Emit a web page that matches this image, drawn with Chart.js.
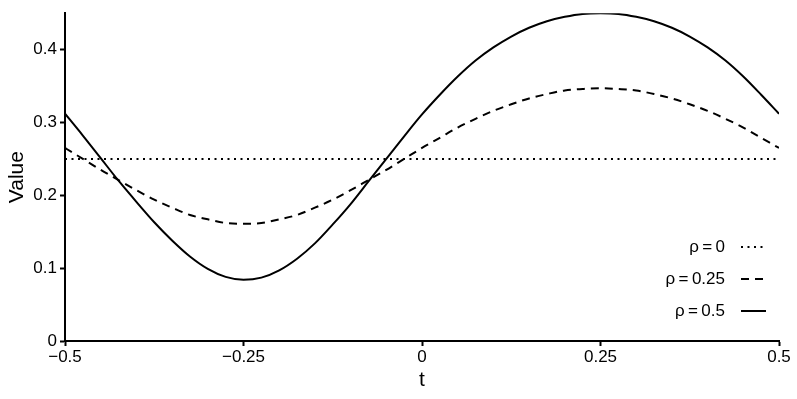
<!DOCTYPE html>
<html>
<head>
<meta charset="utf-8">
<script src="https://cdn.jsdelivr.net/npm/chart.js@4.4.1/dist/chart.umd.min.js"></script>
<style>
    html, body { margin: 0; padding: 0; background: #fff; }
    #wrap { width: 797px; height: 399px; }
</style>
</head>
<body>
<div id="wrap"><canvas id="chart"></canvas></div>
<script>
const tValues = [
    -0.5, -0.475, -0.45, -0.425, -0.4, -0.375, -0.35, -0.325, -0.3, -0.275,
    -0.25, -0.225, -0.2, -0.175, -0.15, -0.125, -0.1, -0.075, -0.05, -0.025,
    0, 0.025, 0.05, 0.075, 0.1, 0.125, 0.15, 0.175, 0.2, 0.225,
    0.25, 0.275, 0.3, 0.325, 0.35, 0.375, 0.4, 0.425, 0.45, 0.475, 0.5
];

const rho0 = [
    0.25, 0.25, 0.25, 0.25, 0.25, 0.25, 0.25, 0.25, 0.25, 0.25,
    0.25, 0.25, 0.25, 0.25, 0.25, 0.25, 0.25, 0.25, 0.25, 0.25,
    0.25, 0.25, 0.25, 0.25, 0.25, 0.25, 0.25, 0.25, 0.25, 0.25,
    0.25, 0.25, 0.25, 0.25, 0.25, 0.25, 0.25, 0.25, 0.25, 0.25, 0.25
];

const rho025 = [
    0.265, 0.250, 0.235, 0.221, 0.207, 0.194, 0.183, 0.173, 0.167, 0.162,
    0.161, 0.162, 0.167, 0.173, 0.183, 0.194, 0.207, 0.221, 0.235, 0.250,
    0.265, 0.279, 0.293, 0.305, 0.316, 0.325, 0.333, 0.339, 0.344, 0.346,
    0.347, 0.346, 0.344, 0.339, 0.333, 0.325, 0.316, 0.305, 0.293, 0.279, 0.265
];

const rho05 = [
    0.312, 0.282, 0.251, 0.220, 0.191, 0.163, 0.138, 0.116, 0.099, 0.088,
    0.084, 0.087, 0.097, 0.113, 0.134, 0.160, 0.188, 0.219, 0.250, 0.281,
    0.311, 0.338, 0.363, 0.385, 0.403, 0.418, 0.430, 0.439, 0.445, 0.449,
    0.450, 0.449, 0.445, 0.439, 0.430, 0.418, 0.403, 0.385, 0.363, 0.338, 0.312
];

const seriesNames = ["ρ\u2009=\u20090", "ρ\u2009=\u20090.25", "ρ\u2009=\u20090.5"];
const xTicks = [-0.5, -0.25, 0, 0.25, 0.5];
const yTicks = [0, 0.1, 0.2, 0.3, 0.4];

const FONT = "'Liberation Sans', Arial, sans-serif";
const dashes = [[2, 4.5], [8, 6], []];

function points(ys) {
    return tValues.map((t, i) => ({ x: t, y: ys[i] }));
}

function fmt(v) {
    if (v === 0) return "0";
    return String(v).replace("-", "\u2212");
}

// legend drawn in the lower right, text first then the line sample
const cornerLegend = {
    id: "cornerLegend",
    afterDraw(chart) {
        const ctx = chart.ctx;
        const rows = [247, 279, 311];
        ctx.save();
        ctx.font = "17px " + FONT;
        ctx.fillStyle = "#000";
        ctx.textAlign = "right";
        ctx.textBaseline = "middle";
        seriesNames.forEach((name, i) => {
            ctx.fillText(name, 725, rows[i]);
            ctx.beginPath();
            ctx.setLineDash(dashes[i]);
            ctx.lineWidth = 2;
            ctx.strokeStyle = "#000";
            ctx.moveTo(741, rows[i]);
            ctx.lineTo(766, rows[i]);
            ctx.stroke();
        });
        ctx.restore();
    }
};

const datasets = [rho0, rho025, rho05].map((ys, i) => ({
    label: seriesNames[i],
    data: points(ys),
    borderColor: "#000",
    borderWidth: 2,
    borderDash: dashes[i],
    pointRadius: 0,
    fill: false,
    cubicInterpolationMode: "monotone"
}));

new Chart(document.getElementById("chart"), {
    type: "line",
    data: { datasets: datasets },
    options: {
        responsive: true,
        maintainAspectRatio: false,
        animation: false,
        layout: {
            padding: { left: 0, right: 18, top: 8, bottom: 0 }
        },
        plugins: {
            legend: { display: false },
            tooltip: { enabled: false }
        },
        scales: {
            x: {
                type: "linear",
                min: -0.5,
                max: 0.5,
                afterBuildTicks: (scale) => {
                    scale.ticks = xTicks.map(v => ({ value: v }));
                },
                afterFit: (scale) => { scale.height = 58; },
                border: { display: true, color: "#000", width: 2 },
                grid: {
                    display: true,
                    drawOnChartArea: false,
                    drawTicks: true,
                    tickLength: 5,
                    tickWidth: 2,
                    color: "#000"
                },
                ticks: {
                    color: "#000",
                    font: { family: FONT, size: 17 },
                    padding: 1,
                    maxRotation: 0,
                    callback: (v) => fmt(v)
                },
                title: {
                    display: true,
                    text: "t",
                    color: "#000",
                    font: { family: FONT, size: 21 },
                    padding: { top: 0, bottom: 6 }
                }
            },
            y: {
                min: 0,
                max: 0.45,
                afterBuildTicks: (scale) => {
                    scale.ticks = yTicks.map(v => ({ value: v }));
                },
                afterFit: (scale) => { scale.width = 65; },
                border: { display: true, color: "#000", width: 2 },
                grid: {
                    display: true,
                    drawOnChartArea: false,
                    drawTicks: true,
                    tickLength: 5,
                    tickWidth: 2,
                    color: "#000"
                },
                ticks: {
                    color: "#000",
                    font: { family: FONT, size: 17 },
                    padding: 3,
                    callback: (v) => fmt(v)
                },
                title: {
                    display: true,
                    text: "Value",
                    color: "#000",
                    font: { family: FONT, size: 21 },
                    padding: { top: 5, bottom: 0 }
                }
            }
        }
    },
    plugins: [cornerLegend]
});
</script>
</body>
</html>
